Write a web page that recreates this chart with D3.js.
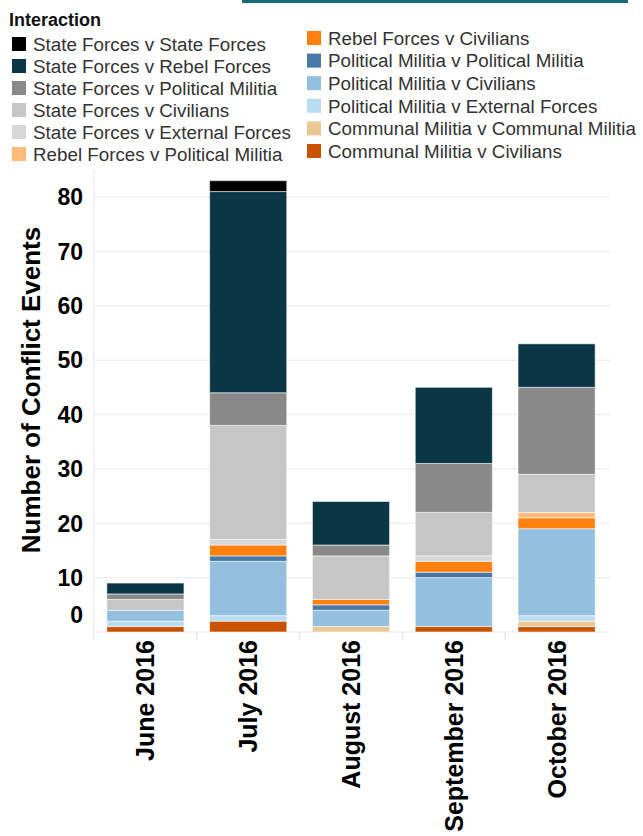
<!DOCTYPE html>
<html>
<head>
<meta charset="utf-8">
<script src="https://cdn.jsdelivr.net/npm/d3@7"></script>
<style>
  html, body { margin: 0; padding: 0; background: #fff; }
  svg { display: block; }
  text { font-family: "Liberation Sans", Arial, sans-serif; }
</style>
</head>
<body>
<svg id="chart" width="643" height="836"></svg>
<script>
// ---- Data ----
const months = ["June 2016", "July 2016", "August 2016", "September 2016", "October 2016"];
const interactions = [
  "State Forces v State Forces",
  "State Forces v Rebel Forces",
  "State Forces v Political Militia",
  "State Forces v Civilians",
  "State Forces v External Forces",
  "Rebel Forces v Political Militia",
  "Rebel Forces v Civilians",
  "Political Militia v Political Militia",
  "Political Militia v Civilians",
  "Political Militia v External Forces",
  "Communal Militia v Communal Militia",
  "Communal Militia v Civilians"
];
const colors = ["#000000", "#0b3646", "#898989", "#c5c6c5", "#d7d7d7", "#ffbc79",
                "#ff800e", "#4878a7", "#93c0df", "#b9dcf0", "#e9c894", "#c85200"];
// values per interaction, by month (June..October)
const sfVsSf   = [0, 2, 0, 0, 0];
const sfVsRf   = [2, 37, 8, 14, 8];
const sfVsPm   = [1, 6, 2, 9, 16];
const sfVsCiv  = [2, 21, 8, 8, 7];
const sfVsExt  = [0, 1, 0, 1, 0];
const rfVsPm   = [0, 0, 0, 0, 1];
const rfVsCiv  = [0, 2, 1, 2, 2];
const pmVsPm   = [0, 1, 1, 1, 0];
const pmVsCiv  = [2, 10, 3, 9, 16];
const pmVsExt  = [1, 1, 0, 0, 1];
const cmVsCm   = [0, 0, 1, 0, 1];
const cmVsCiv  = [1, 2, 0, 1, 1];
const yTicks = [0, 10, 20, 30, 40, 50, 60, 70, 80];
const yTitle = "Number of Conflict Events";
const legendTitle = "Interaction";

const seriesValues = [sfVsSf, sfVsRf, sfVsPm, sfVsCiv, sfVsExt, rfVsPm, rfVsCiv,
                      pmVsPm, pmVsCiv, pmVsExt, cmVsCm, cmVsCiv];

// ---- Build table ----
const table = months.map((m, i) => {
  const row = { month: m };
  interactions.forEach((k, j) => { row[k] = seriesValues[j][i]; });
  return row;
});

const svg = d3.select("#chart");

// top clipped frame remnant
svg.append("rect").attr("x", 242).attr("y", -2).attr("width", 386).attr("height", 5)
  .attr("fill", "#17697f");

// ---- Scales ----
const plotLeft = 94, plotRight = 608;
const x = d3.scaleBand().domain(months).range([plotLeft, plotRight])
  .paddingInner(0.25).paddingOuter(0.125);
const y = d3.scaleLinear().domain([0, 80]).range([632, 197]);
const color = d3.scaleOrdinal().domain(interactions).range(colors);

// gridlines
const g = svg.append("g");
g.selectAll("line.grid").data(yTicks).join("line")
  .attr("class", "grid")
  .attr("x1", plotLeft).attr("x2", 610)
  .attr("y1", d => y(d)).attr("y2", d => y(d))
  .attr("stroke", "#efefef").attr("stroke-width", 1.5);
g.append("line").attr("x1", plotLeft).attr("x2", plotLeft)
  .attr("y1", 170).attr("y2", 640).attr("stroke", "#efefef").attr("stroke-width", 1.5);
// category separators
const seps = months.slice(1).map(m => x(m) - x.step() * x.paddingInner() / 2);
g.selectAll("line.sep").data(seps).join("line")
  .attr("class", "sep")
  .attr("x1", d => d).attr("x2", d => d)
  .attr("y1", 632).attr("y2", 640)
  .attr("stroke", "#e8e8e8").attr("stroke-width", 1.5);

// ---- Bars ----
const stackKeys = interactions.slice().reverse();
const stacked = d3.stack().keys(stackKeys)(table);
svg.append("g").selectAll("g").data(stacked).join("g")
  .attr("fill", d => color(d.key))
  .selectAll("rect").data(d => d.filter(s => s[1] - s[0] > 0)).join("rect")
  .attr("x", d => x(d.data.month))
  .attr("width", x.bandwidth())
  .attr("y", d => y(d[1]))
  .attr("height", d => y(d[0]) - y(d[1]))
  .attr("stroke", "rgba(255,255,255,0.55)")
  .attr("stroke-width", 1);

// ---- Y axis labels ----
svg.append("g").selectAll("text").data(yTicks).join("text")
  .attr("x", 83)
  .attr("y", d => d === 0 ? y(d) - 17 : y(d))
  .attr("dy", "0.36em")
  .attr("text-anchor", "end")
  .attr("font-size", 23).attr("font-weight", "bold").attr("fill", "#000")
  .text(d => d);

svg.append("text")
  .attr("transform", "translate(31,390) rotate(-90)")
  .attr("text-anchor", "middle").attr("dy", "0.36em")
  .attr("font-size", 26).attr("font-weight", "bold").attr("fill", "#000")
  .text(yTitle);

// ---- X axis labels ----
svg.append("g").selectAll("text").data(months).join("text")
  .attr("transform", d => `translate(${x(d) + x.bandwidth() / 2},640) rotate(-90)`)
  .attr("text-anchor", "end").attr("dy", "0.36em")
  .attr("font-size", 25).attr("font-weight", "bold").attr("fill", "#000")
  .text(d => d);

// ---- Legend ----
svg.append("text").attr("x", 9).attr("y", 26)
  .attr("font-size", 18).attr("font-weight", "bold").attr("fill", "#111")
  .text(legendTitle);
const legendPos = interactions.map((k, i) => i < 6
  ? { x: 12, tx: 33, cy: 44 + i * 22 }
  : { x: 307, tx: 328, cy: 38 + (i - 6) * 22.6 });
const lg = svg.append("g").selectAll("g").data(interactions).join("g");
lg.append("rect")
  .attr("x", (d, i) => legendPos[i].x)
  .attr("y", (d, i) => legendPos[i].cy - 7)
  .attr("width", 14).attr("height", 14)
  .attr("fill", d => color(d));
lg.append("text")
  .attr("x", (d, i) => legendPos[i].tx)
  .attr("y", (d, i) => legendPos[i].cy)
  .attr("dy", "0.36em")
  .attr("font-size", 18.8).attr("fill", "#333")
  .text(d => d);
</script>
</body>
</html>
